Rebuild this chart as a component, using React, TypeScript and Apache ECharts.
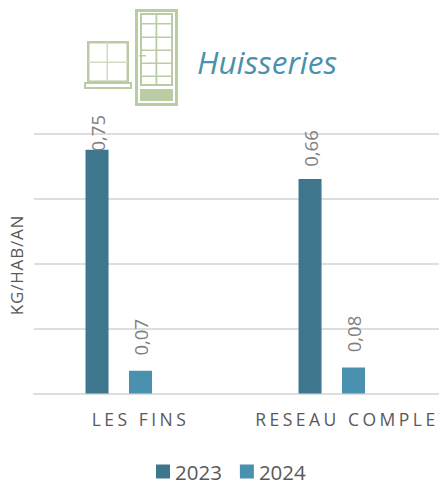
import React, { useEffect, useRef } from "react";
import * as echarts from "echarts";

const categories = ["LES FINS", "RESEAU COMPLET"];
const values2023 = [0.75, 0.66];
const values2024 = [0.07, 0.08];
const blankSeries = [null, null];
const legendNames = ["2023", "2024"];
const yAxisName = "KG/HAB/AN";
const label2023Gap = [0, 14];
const label2024Gap = [17, 17];

const GREEN = "#b9cca3";
const FONT = "'Open Sans', 'Noto Sans', sans-serif";

const rect = (x: number, y: number, w: number, h: number, fill = GREEN) => ({
  type: "rect",
  shape: { x, y, width: w, height: h },
  style: { fill },
  silent: true,
});
const frame = (x: number, y: number, w: number, h: number, t: number) => ({
  type: "rect",
  shape: { x: x + t / 2, y: y + t / 2, width: w - t, height: h - t },
  style: { fill: "none", stroke: GREEN, lineWidth: t },
  silent: true,
});

export default function App() {
  const ref = useRef<HTMLDivElement>(null);
  useEffect(() => {
    const chart = echarts.init(ref.current!, null, { renderer: "svg" });
    const labelBase = {
      show: true,
      position: "top" as const,
      rotate: 90,
      align: "center" as const,
      verticalAlign: "middle" as const,
      offset: [-1.5, 0],
      color: "#7f7f7f",
      fontSize: 18.5,
      fontFamily: FONT,
      formatter: (p: any) => String(p.value).replace(".", ","),
    };
    const points = (vals: number[], gaps: number[]) =>
      vals.map((value, i) => ({ value, label: { distance: gaps[i] + 18 } }));
    chart.setOption({
      animation: false,
      grid: { left: 34, top: 133.5, width: 426, height: 260, containLabel: false, outerBoundsMode: "none" },
      legend: {
        data: legendNames,
        top: 461,
        left: 156,
        icon: "rect",
        padding: 0,
        itemWidth: 14,
        itemHeight: 14,
        itemGap: 18,
        textStyle: { fontSize: 20.5, color: "#595959", fontFamily: FONT },
      },
      xAxis: {
        type: "category",
        data: categories,
        axisLine: { lineStyle: { color: "#dedede", width: 2 } },
        axisTick: { show: false },
        axisLabel: {
          color: "#595959",
          fontSize: 17.5,
          fontFamily: FONT,
          margin: 16,
          interval: 0,
        },
      },
      yAxis: {
        type: "value",
        min: 0,
        max: 0.8,
        interval: 0.2,
        name: yAxisName,
        nameLocation: "middle",
        nameGap: 9,
        nameTextStyle: { color: "#595959", fontSize: 17, fontFamily: FONT, padding: [0, 3, 0, 0] },
        axisLine: { show: false },
        axisTick: { show: false },
        axisLabel: { show: false },
        splitLine: { lineStyle: { color: "#dedede", width: 2 } },
      },
      series: [
        {
          name: "2023",
          type: "bar",
          data: points(values2023, label2023Gap),
          barWidth: 23,
          barGap: "89%",
          itemStyle: { color: "#3e768e" },
          label: labelBase,
        },
        {
          name: "2024",
          type: "bar",
          data: points(values2024, label2024Gap),
          barWidth: 23,
          itemStyle: { color: "#4a91b0" },
          label: labelBase,
        },
        { name: " ", type: "bar", data: blankSeries, barWidth: 23 },
      ],
      graphic: [
        {
          type: "text",
          left: 197,
          top: 45,
          style: {
            text: "Huisseries",
            fill: "#4a91ad",
            font: `italic 31.5px ${FONT}`,
          },
        },
        {
          type: "group",
          silent: true,
          children: [
            // window
            frame(87, 41, 42, 42, 2.5),
            rect(106.5, 42, 1.5, 40, "#cfdcc0"),
            rect(88, 61.5, 40, 1.5, "#cfdcc0"),
            frame(84, 82, 48, 7, 2),
            // door
            frame(135, 9, 43, 97, 3),
            frame(140, 13, 33, 73, 2),
            rect(155.5, 14, 1.8, 72),
            rect(141, 23, 31, 1.5),
            rect(141, 36.5, 31, 1.5),
            rect(141, 49.5, 31, 1.5),
            rect(141, 62.5, 31, 1.5),
            rect(141, 75.5, 31, 1.5),
            rect(140, 89, 33, 12),
            rect(139, 55, 7, 1.5),
          ],
        },
      ],
    });
    // zrender has no letter-spacing option: apply it to the rendered SVG texts.
    ref.current!.querySelectorAll("text").forEach((t) => {
      const s = t.textContent || "";
      if (categories.includes(s)) (t as SVGTextElement).style.letterSpacing = "3.5px";
      if (s === yAxisName) (t as SVGTextElement).style.letterSpacing = "0.8px";
    });
    return () => chart.dispose();
  }, []);
  return (
    <div
      ref={ref}
      style={{ position: "absolute", left: 0, top: 0, width: 439, height: 489, overflow: "hidden" }}
    />
  );
}
